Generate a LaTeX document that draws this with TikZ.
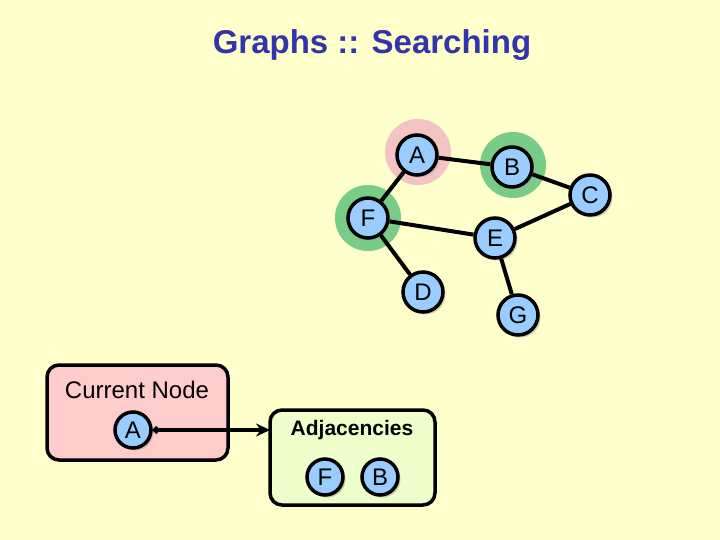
\documentclass[tikz,border=0pt]{standalone}
\usepackage{fontspec}
\setmainfont{Liberation Sans}
\usetikzlibrary{arrows.meta,shadows}
\definecolor{bg}{HTML}{FFFFCC}
\definecolor{nodeblue}{HTML}{99CCFF}
\definecolor{titleblue}{HTML}{3333AA}
\definecolor{pinkh}{HTML}{F4C4C4}
\definecolor{greenh}{HTML}{77CC88}
\definecolor{curbox}{HTML}{FFCCCC}
\definecolor{adjbox}{HTML}{EEFFCC}
\tikzset{
 gnode/.style={circle,draw=black,line width=3.5pt,fill=nodeblue,minimum size=40pt,inner sep=0pt,font=\fontsize{24}{24}\selectfont,drop shadow={shadow xshift=2.5pt,shadow yshift=-2.5pt,fill=gray!70}},
 snode/.style={gnode,minimum size=36pt},
 edge/.style={line width=4pt},
 halo/.style={circle,minimum size=66pt,inner sep=0pt},
 panel/.style={draw=black,line width=3.5pt,rounded corners=12pt}
}
\begin{document}
\begin{tikzpicture}[x=1pt,y=-1pt]
\fill[bg] (0,0) rectangle (720,540);
\useasboundingbox (0,0) rectangle (720,540);
\node (title) at (372,45) {\fontsize{33}{33}\selectfont\bfseries\color{titleblue}Graphs :: Searching};
\node[halo,fill=pinkh] (hA) at (418,152) {};
\node[halo,fill=greenh] (hB) at (513,165) {};
\node[halo,fill=greenh] (hF) at (368,218) {};
\node[gnode] (A) at (417,155) {A};
\node[gnode] (B) at (512,167) {B};
\node[gnode] (C) at (590,195) {C};
\node[gnode] (F) at (368,218) {F};
\node[gnode] (E) at (495,238) {E};
\node[gnode] (D) at (423,292) {D};
\node[gnode] (G) at (518,315) {G};
\draw[edge] (A) -- (B);
\draw[edge] (A) -- (F);
\draw[edge] (B) -- (C);
\draw[edge] (C) -- (E);
\draw[edge] (F) -- (E);
\draw[edge] (F) -- (D);
\draw[edge] (E) -- (G);
\draw[panel,fill=curbox] (47,365) rectangle (228,460);
\node (cur) at (137,390) {\fontsize{24}{24}\selectfont Current Node};
\node[snode] (cA) at (133,430) {A};
\draw[panel,fill=adjbox] (270,410) rectangle (435,505);
\coordinate (adjin) at (270,430);
\node (adj) at (352,430) {\fontsize{21}{21}\selectfont\bfseries Adjacencies};
\node[snode] (aF) at (325,477) {F};
\node[snode] (aB) at (380,477) {B};
\draw[line width=3.5pt,{Circle[length=7pt]}-{Stealth[length=14pt,width=13pt]}] (cA.east) -- (adjin);
\end{tikzpicture}
\end{document}
